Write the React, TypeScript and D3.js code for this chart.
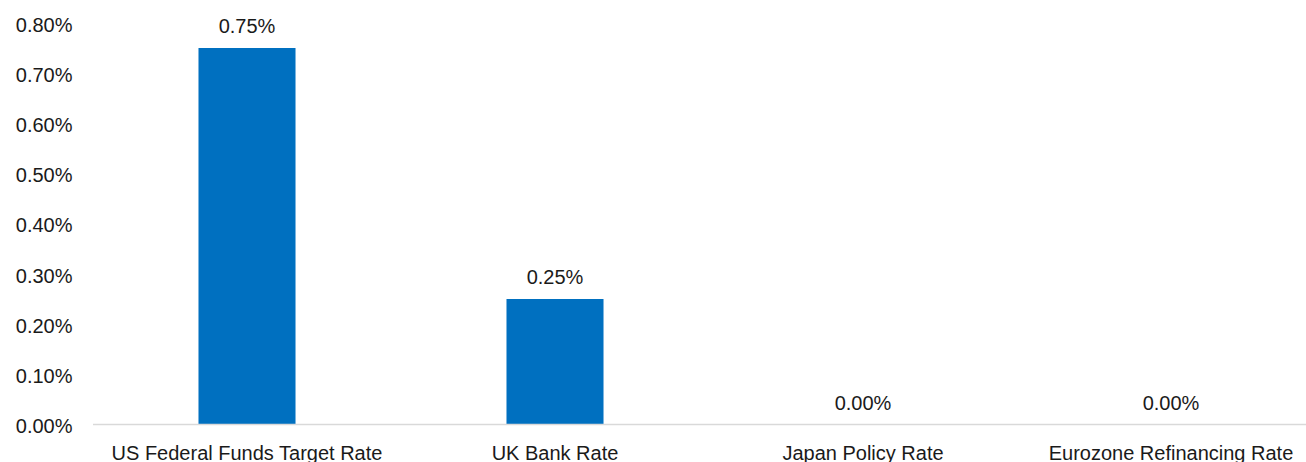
import React from "react";
import * as d3 from "d3";

const categories = [
  "US Federal Funds Target Rate",
  "UK Bank Rate",
  "Japan Policy Rate",
  "Eurozone Refinancing Rate",
];
const values = [0.75, 0.25, 0.0, 0.0];
const yTicks = [0, 0.1, 0.2, 0.3, 0.4, 0.5, 0.6, 0.7, 0.8];

const W = 1306;
const H = 462;
const FONT = "'Liberation Sans', Arial, sans-serif";
const FS = 20;

export default function App() {
  const left = 93;
  const right = 1325;
  const y0 = 424.5;
  const yTop = 22.9;
  const x = d3
    .scaleBand<string>()
    .domain(categories)
    .range([left, right])
    .paddingInner(0.685)
    .paddingOuter(0.3425);
  const y = d3.scaleLinear().domain([0, 0.8]).range([y0, yTop]);

  return (
    <svg
      width={W}
      height={H}
      style={{ position: "absolute", left: 0, top: 0, display: "block" }}
    >
      <rect width={W} height={H} fill="#ffffff" />
      {yTicks.map((t) => (
        <text
          key={t}
          x={72.5}
          y={y(t)}
          dy="0.43em"
          textAnchor="end"
          fontFamily={FONT}
          fontSize={FS}
          fill="#1a1a1a"
        >
          {t.toFixed(2) + "%"}
        </text>
      ))}
      {categories.map((c, i) => {
        const bx = x(c)!;
        const bw = x.bandwidth();
        const by = y(values[i]);
        return (
          <g key={c}>
            <rect
              x={bx}
              y={by}
              width={bw}
              height={y0 - by}
              fill="#0070C0"
            />
            <text
              x={bx + bw / 2}
              y={by - 15}
              textAnchor="middle"
              fontFamily={FONT}
              fontSize={FS}
              fill="#1a1a1a"
            >
              {values[i].toFixed(2) + "%"}
            </text>
            <text
              x={bx + bw / 2}
              y={460}
              textAnchor="middle"
              fontFamily={FONT}
              fontSize={FS}
              fill="#1a1a1a"
            >
              {c}
            </text>
          </g>
        );
      })}
      <line
        x1={left}
        x2={W}
        y1={y0}
        y2={y0}
        stroke="#d9d9d9"
        strokeWidth={1.5}
      />
    </svg>
  );
}
